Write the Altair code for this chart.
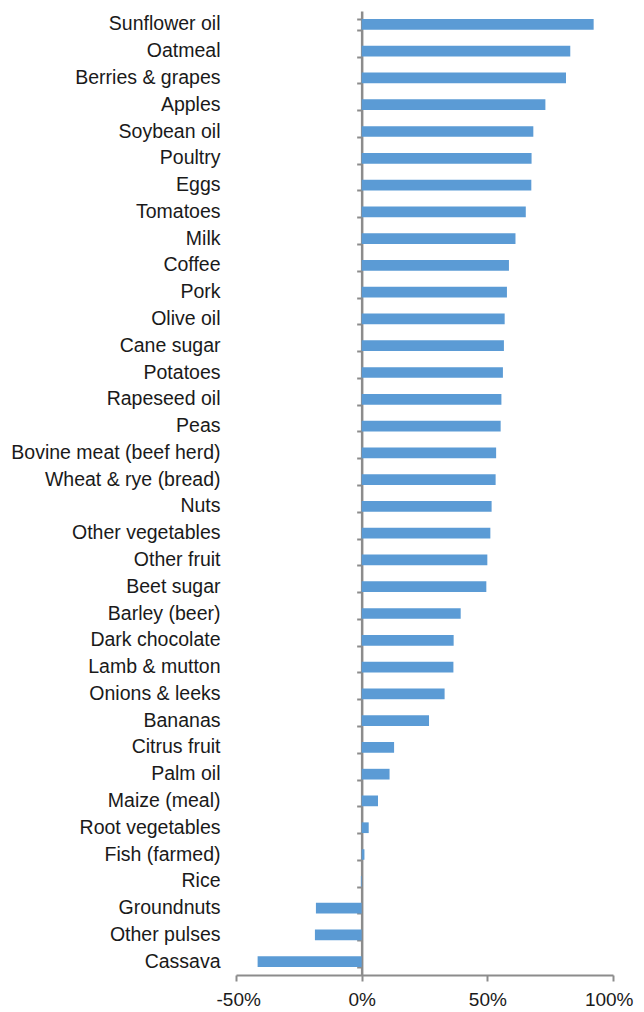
import altair as alt
import pandas as pd

categories = [
    "Sunflower oil", "Oatmeal", "Berries & grapes", "Apples", "Soybean oil",
    "Poultry", "Eggs", "Tomatoes", "Milk", "Coffee", "Pork", "Olive oil",
    "Cane sugar", "Potatoes", "Rapeseed oil", "Peas", "Bovine meat (beef herd)",
    "Wheat & rye (bread)", "Nuts", "Other vegetables", "Other fruit", "Beet sugar",
    "Barley (beer)", "Dark chocolate", "Lamb & mutton", "Onions & leeks", "Bananas",
    "Citrus fruit", "Palm oil", "Maize (meal)", "Root vegetables", "Fish (farmed)",
    "Rice", "Groundnuts", "Other pulses", "Cassava",
]
values = [
    92.3, 83.0, 81.3, 73.1, 68.3,
    67.6, 67.5, 65.3, 61.2, 58.6, 57.8, 56.9,
    56.6, 56.2, 55.6, 55.3, 53.5,
    53.3, 51.7, 51.2, 50.0, 49.6,
    39.4, 36.6, 36.5, 33.0, 26.8,
    12.9, 11.1, 6.5, 2.8, 1.1,
    -0.3, -18.2, -18.6, -41.4,
]
x_ticks = [-50, 0, 50, 100]

df = pd.DataFrame({"food": categories, "change": values})

PLOT_W = 377
PLOT_H = 964
X_MIN, X_MAX = -50, 100
zero_offset = PLOT_W * (0 - X_MIN) / (X_MAX - X_MIN)

FONT = "Liberation Sans"
AXIS_GREY = "#8c8c8c"
TEXT = "#1a1a1a"

x_scale = alt.Scale(domain=[X_MIN, X_MAX], nice=False, zero=False)
x_axis = alt.Axis(
    values=x_ticks, title=None, grid=False,
    domainColor=AXIS_GREY, domainWidth=2,
    tickColor=AXIS_GREY, tickWidth=2, tickSize=6,
    labelExpr="round(datum.value) + '%'",
    labelFont=FONT, labelFontSize=19, labelColor=TEXT,
    labelPadding=9, labelFlush=True, labelFlushOffset=20, labelOverlap=False,
)

y_scale = alt.Scale(paddingInner=0.6, paddingOuter=0.3)

bars = alt.Chart(df).mark_bar(color="#5B9BD5").encode(
    x=alt.X("change:Q", scale=x_scale, axis=x_axis),
    y=alt.Y(
        "food:N", sort=categories, scale=y_scale,
        axis=alt.Axis(
            title=None, domain=False, ticks=False, tickSize=0,
            labelFont=FONT, labelFontSize=19.5, labelColor=TEXT,
            labelPadding=16, labelLimit=400,
        ),
    ),
)

axis_layer = alt.Chart(df).mark_bar(opacity=0).encode(
    x=alt.X("change:Q", scale=x_scale, axis=x_axis),
    y=alt.Y(
        "food:N", sort=categories, scale=y_scale,
        axis=alt.Axis(
            orient="left", offset=-zero_offset, title=None, labels=False,
            domainColor=AXIS_GREY, domainWidth=2.5,
            tickColor=AXIS_GREY, tickWidth=2, tickSize=5, tickBand="extent",
        ),
    ),
)

chart = alt.layer(bars, axis_layer).resolve_axis(y="independent").properties(
    width=PLOT_W,
    height=PLOT_H,
    autosize=alt.AutoSizeParams(type="none"),
    padding={"left": 228, "top": 3, "right": 23, "bottom": 34},
).configure_view(stroke=None)

chart.save("out.html", embed_options={"renderer": "svg", "actions": False})
